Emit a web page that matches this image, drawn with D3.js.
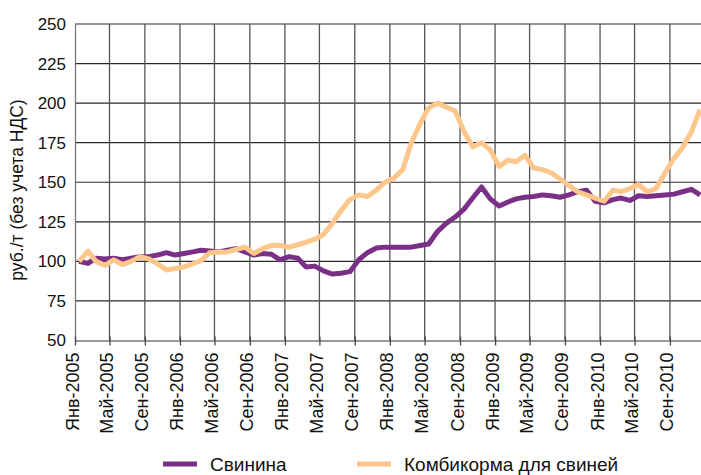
<!DOCTYPE html>
<html>
<head>
<meta charset="utf-8">
<title>Свинина и комбикорма</title>
<script src="https://cdn.jsdelivr.net/npm/d3@7"></script>
<style>
    body { margin: 0; background: #fff; }
    svg { display: block; font-family: "Liberation Sans", Arial, sans-serif; }
</style>
</head>
<body>
<script>
    // monthly index, Jan-2005 .. Dec-2010
    var startYear = 2005;

    var svinina = [
        100, 98.7, 102, 101.5, 102, 101, 102, 103, 103, 104, 105.5, 104,
        105, 106, 107, 106.5, 106, 107, 108, 106, 104, 105, 104.5, 101,
        103, 102, 96.5, 97, 94, 92, 92.5, 93.5, 101, 105.5, 108.5, 109,
        109, 109, 109, 110, 111, 119, 124, 128, 133, 140, 147, 139.5,
        135, 137.5, 139.5, 140.5, 141, 142, 141.5, 140.5, 142, 144, 145, 138,
        137, 139, 140, 138.5, 141.5, 141, 141.5, 142, 142.5, 144, 145.5, 142
    ];

    var kombikorma = [
        100, 106.5, 100, 97.5, 101, 98, 100, 103, 101.5, 98.5, 94.5, 95.5,
        96.5, 98.5, 100.5, 105.5, 106, 106, 107.5, 109, 105, 108, 110, 110,
        109, 110.5, 112, 114, 117, 124, 132, 139, 142, 141, 145, 150,
        152.5, 158, 174.5, 187, 197, 200, 197.5, 195, 182, 172.5, 175, 170.5,
        160, 164, 163, 167, 159, 158, 156, 152, 148, 144, 142, 140,
        138, 145, 144, 146, 148.5, 144, 146, 156, 165, 172, 182, 196
    ];

    var tickLabels = [
        "Янв-2005", "Май-2005", "Сен-2005", "Янв-2006", "Май-2006", "Сен-2006",
        "Янв-2007", "Май-2007", "Сен-2007", "Янв-2008", "Май-2008", "Сен-2008",
        "Янв-2009", "Май-2009", "Сен-2009", "Янв-2010", "Май-2010", "Сен-2010"
    ];
    var yTicks = [50, 75, 100, 125, 150, 175, 200, 225, 250];

    var seriesNames = ["Свинина", "Комбикорма для свиней"];
    var seriesColors = ["#7b3087", "#fdc68b"];
    var yTitle = "руб./т (без учета НДС)";

    var width = 701, height = 475;
    var margin = {left: 75, top: 24, bottom: 340.5};

    var svg = d3.select("body").append("svg")
        .attr("width", width)
        .attr("height", height);

    // points sit mid-month, ticks at the first of the month
    var x = d3.scaleTime()
        .domain([new Date(startYear, 0, 1), new Date(startYear + 6, 0, 1)])
        .range([margin.left, 705]);

    var y = d3.scaleLinear()
        .domain([50, 250])
        .range([margin.bottom, margin.top]);

    var tickDates = tickLabels.map(function(d, i) { return new Date(startYear, i * 4, 1); });

    // horizontal grid
    svg.append("g").selectAll("line")
        .data(yTicks.slice(1))
        .enter().append("line")
        .attr("x1", margin.left).attr("x2", width)
        .attr("y1", function(d) { return y(d); })
        .attr("y2", function(d) { return y(d); })
        .attr("stroke", "#2a2a2a")
        .attr("stroke-width", 1.2);

    // vertical grid
    svg.append("g").selectAll("line")
        .data(tickDates.slice(1))
        .enter().append("line")
        .attr("x1", function(d) { return x(d); })
        .attr("x2", function(d) { return x(d); })
        .attr("y1", margin.top).attr("y2", margin.bottom)
        .attr("stroke", "#555")
        .attr("stroke-width", 1.3);

    // y axis
    var yAxis = svg.append("g")
        .attr("transform", "translate(" + margin.left + ",0)")
        .call(d3.axisLeft(y).tickValues(yTicks).tickSize(0).tickPadding(9));
    yAxis.select(".domain").attr("stroke", "#777").attr("stroke-width", 1.3);
    yAxis.selectAll("text")
        .attr("font-size", 17)
        .attr("font-family", "Liberation Sans, Arial, sans-serif")
        .attr("fill", "#111");

    // x axis
    var xAxis = svg.append("g")
        .attr("transform", "translate(0," + margin.bottom + ")")
        .call(d3.axisBottom(x)
            .tickValues(tickDates)
            .tickFormat(function(d, i) { return tickLabels[i]; })
            .tickSizeInner(5).tickSizeOuter(0));
    xAxis.select(".domain").attr("stroke", "#777").attr("stroke-width", 1.3);
    xAxis.selectAll(".tick line")
        .attr("y1", -4)
        .attr("stroke", "#444")
        .attr("stroke-width", 1.3);
    xAxis.selectAll("text")
        .attr("font-size", 18)
        .attr("font-family", "Liberation Sans, Arial, sans-serif")
        .attr("fill", "#111")
        .attr("text-anchor", "end")
        .attr("dy", null)
        .attr("y", 0)
        .attr("transform", "translate(3,12) rotate(-90)");

    // y title
    svg.append("text")
        .attr("transform", "translate(23,190) rotate(-90)")
        .attr("text-anchor", "middle")
        .attr("font-size", 17.5)
        .attr("fill", "#111")
        .text(yTitle);

    // lines
    var line = d3.line()
        .x(function(d, i) { return x(new Date(startYear, i, 15)); })
        .y(function(d) { return y(d); });

    [svinina, kombikorma].forEach(function(s, k) {
        svg.append("path")
            .datum(s)
            .attr("fill", "none")
            .attr("stroke", seriesColors[k])
            .attr("stroke-width", 5)
            .attr("stroke-linejoin", "round")
            .attr("d", line);
    });

    // legend
    var legendX = [163, 357];
    var legend = svg.append("g").selectAll("g")
        .data(seriesNames)
        .enter().append("g")
        .attr("transform", function(d, i) { return "translate(" + legendX[i] + ",464)"; });
    legend.append("line")
        .attr("x1", 0).attr("x2", 34)
        .attr("stroke", function(d, i) { return seriesColors[i]; })
        .attr("stroke-width", 5);
    legend.append("text")
        .attr("x", 47).attr("y", 7)
        .attr("font-size", 19)
        .attr("fill", "#111")
        .text(function(d) { return d; });
</script>
</body>
</html>
